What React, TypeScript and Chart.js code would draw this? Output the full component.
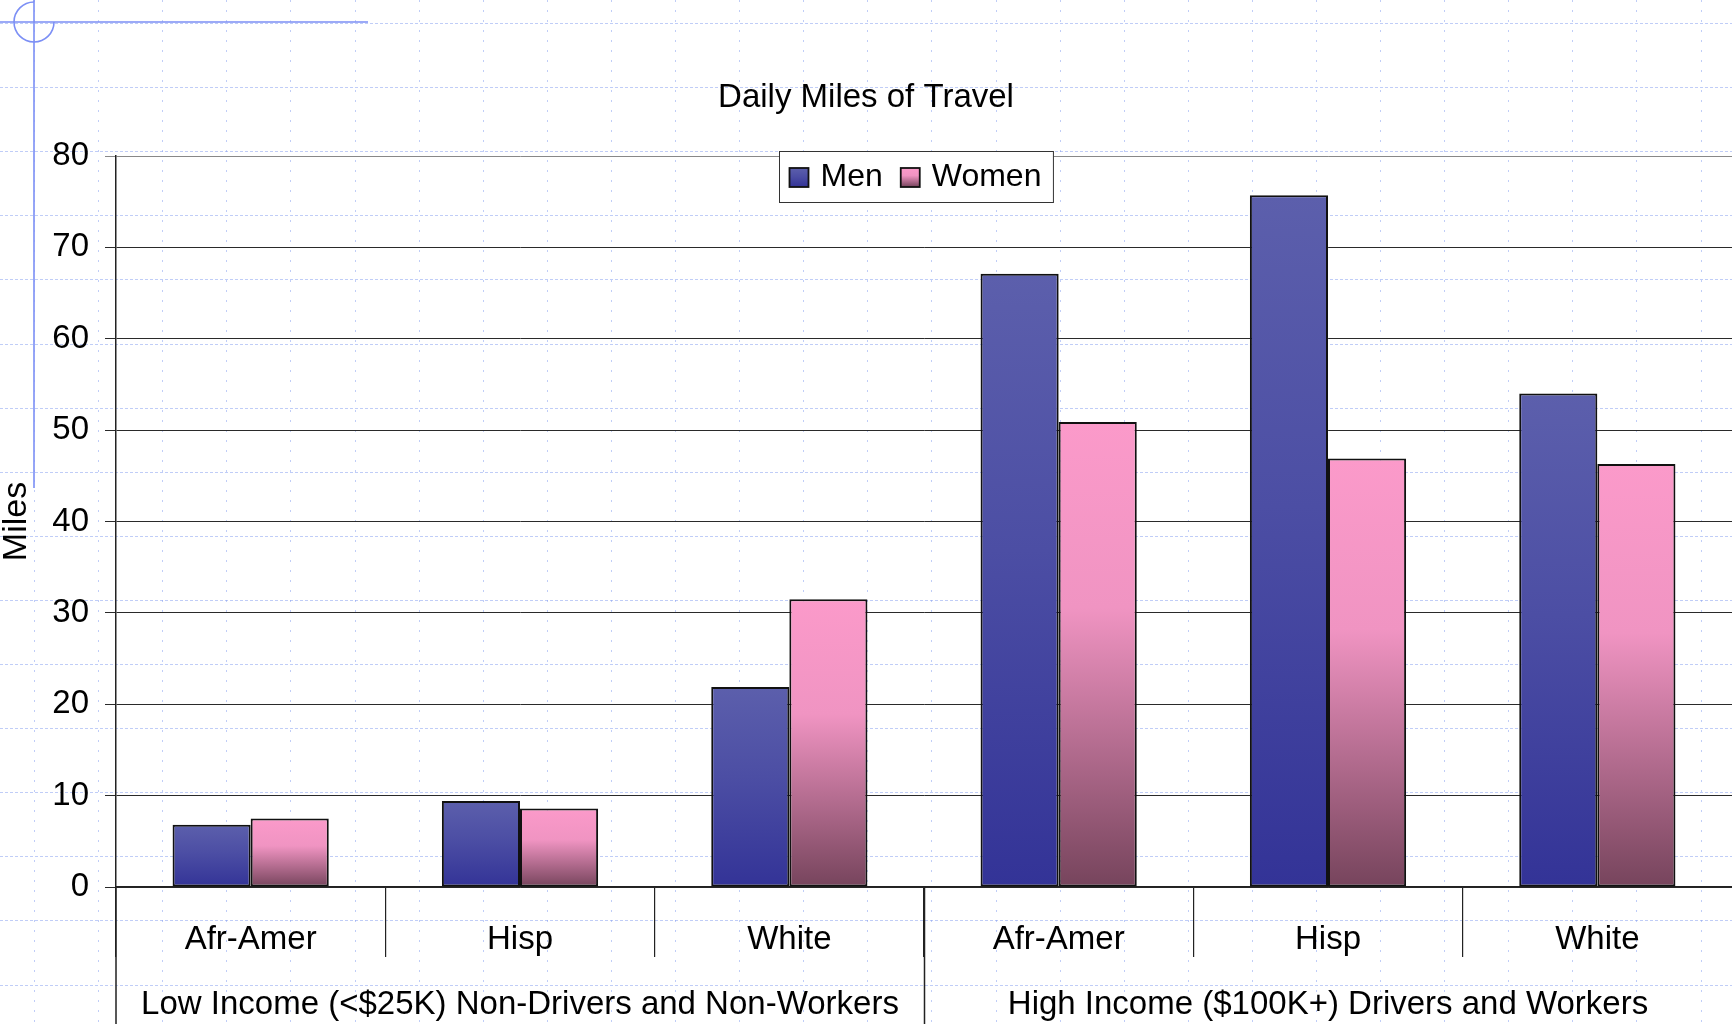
import { useEffect, useRef } from 'react';
import { Chart, registerables } from 'chart.js';

Chart.register(...registerables);

const FONT = "'Liberation Sans', Arial, Helvetica, sans-serif";

// ---- data ----
const categories = ['Afr-Amer', 'Hisp', 'White', 'Afr-Amer', 'Hisp', 'White'];
const groups = [
  'Low Income (<$25K) Non-Drivers and Non-Workers',
  'High Income ($100K+) Drivers and Workers',
];
const seriesNames = ['Men', 'Women'];
const menValues = [6.8, 9.4, 21.9, 67.1, 75.7, 54.0];
const womenValues = [7.5, 8.6, 31.5, 50.9, 46.9, 46.3];
const yMin = 0;
const yMax = 80;
const yStep = 10;
const chartTitle = 'Daily Miles of Travel';
const yTitle = 'Miles';

// gradient stops (top -> bottom of each bar)
const menStops: [number, string][] = [
  [0, 'rgb(92,95,172)'],
  [0.45, 'rgb(76,78,164)'],
  [1, 'rgb(51,51,151)'],
];
const womenStops: [number, string][] = [
  [0, 'rgb(251,154,202)'],
  [0.4, 'rgb(240,148,194)'],
  [1, 'rgb(118,68,92)'],
];

function barGradient(ctx: any, stops: [number, string][]) {
  const chart = ctx.chart;
  const { chartArea, scales } = chart;
  if (!chartArea || !scales || !scales.y || ctx.raw == null) return stops[0][1];
  const yTop = scales.y.getPixelForValue(ctx.raw);
  const yBot = scales.y.getPixelForValue(0);
  if (!isFinite(yTop) || !isFinite(yBot) || yTop === yBot) return stops[0][1];
  const g = chart.ctx.createLinearGradient(0, yTop, 0, yBot);
  stops.forEach(([o, c]) => g.addColorStop(o, c));
  return g;
}

const backgroundPlugin = {
  id: 'slideBackground',
  beforeDraw(chart: any) {
    const { ctx, width, height } = chart;
    ctx.save();
    ctx.fillStyle = '#ffffff';
    ctx.fillRect(0, 0, width, height);
    // dotted guide grid
    ctx.strokeStyle = 'rgba(130,155,240,0.5)';
    ctx.lineWidth = 1;
    ctx.setLineDash([3, 2]);
    for (let y = 23; y < height; y += 64.1) {
      const yy = Math.round(y) + 0.5;
      ctx.beginPath();
      ctx.moveTo(0, yy);
      ctx.lineTo(width, yy);
      ctx.stroke();
    }
    ctx.setLineDash([2, 8]);
    for (let x = 34; x < width; x += 64.1) {
      const xx = Math.round(x) + 0.5;
      ctx.beginPath();
      ctx.moveTo(xx, 0);
      ctx.lineTo(xx, height);
      ctx.stroke();
    }
    ctx.setLineDash([]);
    // blue guide lines + circle
    ctx.strokeStyle = '#7c8ff5';
    ctx.lineWidth = 1.6;
    ctx.beginPath();
    ctx.moveTo(34, 0);
    ctx.lineTo(34, 488);
    ctx.moveTo(0, 22);
    ctx.lineTo(368, 22);
    ctx.stroke();
    ctx.beginPath();
    ctx.arc(34, 22, 20, 0, 1.5 * Math.PI);
    ctx.stroke();
    ctx.restore();
  },
};

const overlayPlugin = {
  id: 'overlay',
  afterDraw(chart: any) {
    const { ctx, chartArea, scales } = chart;
    const xs = scales.x;
    ctx.save();
    // axis extension and group separators
    ctx.strokeStyle = '#222';
    ctx.lineWidth = 1.5;
    const sep = (xs.getPixelForValue(2) + xs.getPixelForValue(3)) / 2;
    ctx.beginPath();
    ctx.moveTo(chartArea.left, chartArea.bottom);
    ctx.lineTo(chartArea.left, chart.height);
    ctx.moveTo(Math.round(sep) + 0.5, chartArea.bottom);
    ctx.lineTo(Math.round(sep) + 0.5, chart.height);
    ctx.stroke();

    // legend box
    ctx.font = `32px ${FONT}`;
    const tw = seriesNames.map((s) => ctx.measureText(s).width);
    const sw = 19;
    const padL = 10, gapS = 12, gapItem = 18, padR = 12;
    const boxW = padL + sw + gapS + tw[0] + gapItem + sw + gapS + tw[1] + padR;
    const boxH = 51;
    const cx = 916;
    const boxX = Math.round(cx - boxW / 2) + 0.5;
    const boxY = 151.5;
    ctx.fillStyle = '#ffffff';
    ctx.fillRect(boxX, boxY, boxW, boxH);
    ctx.strokeStyle = '#333';
    ctx.lineWidth = 1;
    ctx.strokeRect(boxX, boxY, boxW, boxH);
    const allStops = [menStops, womenStops];
    let x = boxX + padL;
    const sy = 168;
    for (let i = 0; i < seriesNames.length; i++) {
      const g = ctx.createLinearGradient(0, sy, 0, sy + sw);
      allStops[i].forEach(([o, c]) => g.addColorStop(o, c));
      ctx.fillStyle = g;
      ctx.fillRect(x, sy, sw, sw);
      ctx.strokeStyle = '#111';
      ctx.lineWidth = 1.8;
      ctx.strokeRect(x, sy, sw, sw);
      x += sw + gapS;
      ctx.fillStyle = '#000';
      ctx.textBaseline = 'middle';
      ctx.textAlign = 'left';
      ctx.fillText(seriesNames[i], x, 177);
      x += tw[i] + gapItem;
    }
    ctx.restore();
  },
};

export default function App() {
  const ref = useRef<HTMLCanvasElement>(null);
  useEffect(() => {
    Chart.defaults.font.family = FONT;
    Chart.defaults.color = '#000';
    const chart = new Chart(ref.current!, {
      type: 'bar',
      data: {
        labels: categories,
        datasets: [
          {
            label: seriesNames[0],
            data: menValues,
            xAxisID: 'x',
            yAxisID: 'y',
            backgroundColor: (c: any) => barGradient(c, menStops),
            borderColor: '#111',
            borderWidth: 2,
            borderSkipped: false,
            categoryPercentage: 0.58,
            barPercentage: 1,
          },
          {
            label: seriesNames[1],
            data: womenValues,
            xAxisID: 'x',
            yAxisID: 'y',
            backgroundColor: (c: any) => barGradient(c, womenStops),
            borderColor: '#111',
            borderWidth: 2,
            borderSkipped: false,
            categoryPercentage: 0.58,
            barPercentage: 1,
          },
        ],
      },
      options: {
        responsive: false,
        animation: false,
        events: [],
        layout: { padding: { left: 0, right: 0, top: 0, bottom: 0 } },
        plugins: {
          legend: { display: false },
          tooltip: { enabled: false },
          title: {
            display: true,
            text: chartTitle,
            color: '#000',
            font: { size: 33, weight: 'normal', family: FONT },
            padding: { top: 78, bottom: 38.4 },
          },
        },
        scales: {
          x: {
            type: 'category',
            position: 'bottom',
            offset: true,
            grid: {
              display: true,
              drawOnChartArea: false,
              offset: true,
              tickLength: 70,
              color: (c: any) =>
                c.index === undefined || c.index >= categories.length ? 'rgba(0,0,0,0)' : '#222',
              lineWidth: 1.2,
            },
            border: { display: true, color: '#222', width: 1.5 },
            ticks: {
              font: { size: 33, family: FONT },
              color: '#000',
              padding: -37,
              maxRotation: 0,
              autoSkip: false,
            },
            afterFit: (s: any) => {
              s.height = 70;
            },
          },
          x2: {
            type: 'category',
            position: 'bottom',
            labels: groups,
            offset: true,
            grid: { display: false },
            border: { display: false },
            ticks: {
              font: { size: 33, family: FONT },
              color: '#000',
              padding: 20,
              maxRotation: 0,
              autoSkip: false,
            },
            afterFit: (s: any) => {
              s.height = 67;
            },
          },
          y: {
            min: yMin,
            max: yMax,
            position: 'left',
            grid: {
              color: (c: any) => (c.tick && c.tick.value === yMax ? '#888' : '#2a2a2a'),
              lineWidth: 1,
              tickLength: 11,
            },
            border: { display: true, color: '#222', width: 1.5 },
            ticks: {
              stepSize: yStep,
              font: { size: 33, family: FONT },
              color: '#000',
              padding: 16,
            },
            title: {
              display: true,
              text: yTitle,
              color: '#000',
              font: { size: 34, family: FONT, lineHeight: 1.0 },
              padding: { top: 0, bottom: 0 },
            },
            afterFit: (s: any) => {
              s.width = 116;
            },
          },
        },
      },
      plugins: [backgroundPlugin, overlayPlugin],
    } as any);
    return () => chart.destroy();
  }, []);
  return (
    <div style={{ position: 'absolute', left: 0, top: 0, width: 1732, height: 1024, background: '#fff' }}>
      <canvas ref={ref} width={1732} height={1024} style={{ display: 'block' }} />
    </div>
  );
}
